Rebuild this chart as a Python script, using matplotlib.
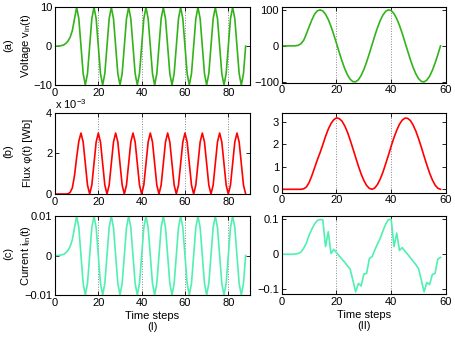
import numpy as np
import matplotlib.pyplot as plt

plt.rcParams['font.family'] = ['Liberation Sans', 'DejaVu Sans']
plt.rcParams['font.size'] = 8
plt.rcParams['mathtext.fontset'] = 'custom'
plt.rcParams['mathtext.rm'] = 'Liberation Sans'
plt.rcParams['mathtext.it'] = 'Liberation Sans:italic'

# column (I): 0..88 time steps
volt_left = [0, 0, 0.05, 0.15, 0.3, 0.7, 1.3, 2.3, 4.0, 7.0, 10,
             7.07, 0, -7.07, -10, -7.07, 0, 7.07, 10,
             7.07, 0, -7.07, -10, -7.07, 0, 7.07, 10,
             7.07, 0, -7.07, -10, -7.07, 0, 7.07, 10,
             7.07, 0, -7.07, -10, -7.07, 0, 7.07, 10,
             7.07, 0, -7.07, -10, -7.07, 0, 7.07, 10,
             7.07, 0, -7.07, -10, -7.07, 0, 7.07, 10,
             7.07, 0, -7.07, -10, -7.07, 0, 7.07, 10,
             7.07, 0, -7.07, -10, -7.07, 0, 7.07, 10,
             7.07, 0, -7.07, -10, -7.07, 0, 7.07, 10,
             7.07, 0, -7.07, -10, -7.07, 0]

# flux in units of 1e-3 Wb
flux_left = [0, 0, 0, 0, 0, 0, 0.01, 0.08, 0.3, 0.9, 1.8, 2.6, 3.0,
             2.56, 1.5, 0.44, 0, 0.44, 1.5, 2.56, 3.0,
             2.56, 1.5, 0.44, 0, 0.44, 1.5, 2.56, 3.0,
             2.56, 1.5, 0.44, 0, 0.44, 1.5, 2.56, 3.0,
             2.56, 1.5, 0.44, 0, 0.44, 1.5, 2.56, 3.0,
             2.56, 1.5, 0.44, 0, 0.44, 1.5, 2.56, 3.0,
             2.56, 1.5, 0.44, 0, 0.44, 1.5, 2.56, 3.0,
             2.56, 1.5, 0.44, 0, 0.44, 1.5, 2.56, 3.0,
             2.56, 1.5, 0.44, 0, 0.44, 1.5, 2.56, 3.0,
             2.56, 1.5, 0.44, 0, 0.44, 1.5, 2.56, 3.0,
             2.56, 1.5, 0.44, 0]

curr_left = [0, 0, 0.00005, 0.00015, 0.0003, 0.0007, 0.0013, 0.0023, 0.004, 0.007, 0.01,
             0.00707, 0, -0.00707, -0.01, -0.00707, 0, 0.00707, 0.01,
             0.00707, 0, -0.00707, -0.01, -0.00707, 0, 0.00707, 0.01,
             0.00707, 0, -0.00707, -0.01, -0.00707, 0, 0.00707, 0.01,
             0.00707, 0, -0.00707, -0.01, -0.00707, 0, 0.00707, 0.01,
             0.00707, 0, -0.00707, -0.01, -0.00707, 0, 0.00707, 0.01,
             0.00707, 0, -0.00707, -0.01, -0.00707, 0, 0.00707, 0.01,
             0.00707, 0, -0.00707, -0.01, -0.00707, 0, 0.00707, 0.01,
             0.00707, 0, -0.00707, -0.01, -0.00707, 0, 0.00707, 0.01,
             0.00707, 0, -0.00707, -0.01, -0.00707, 0, 0.00707, 0.01,
             0.00707, 0, -0.00707, -0.01, -0.00707, 0]

# column (II): 0..58 time steps
volt_right = [0, 0, 0, 0, 0, 0.3, 1.5, 6, 15, 33, 53, 72, 88, 97,
              100, 96.9, 87.8, 73.2, 54.1, 31.6, 7.1, -17.8, -41.6, -62.8,
              -80.1, -92.4, -99.0, -99.4, -93.7, -82.1, -65.4, -44.7, -21.2,
              3.6, 28.2, 51.1, 70.8, 86.0, 96.0, 99.9, 97.7, 89.4, 75.5, 57.0,
              34.9, 10.6, -14.3, -38.4, -60.0, -77.9, -91.0, -98.4, -99.7,
              -94.8, -84.1, -68.0, -47.8, -24.6, 0.1]

flux_right = [0, 0, 0, 0, 0, 0, 0, 0, 0.02, 0.1, 0.3, 0.6, 0.95, 1.3,
              1.62, 1.97, 2.34, 2.66, 2.91, 3.08, 3.16, 3.13, 3.02, 2.81,
              2.53, 2.18, 1.80, 1.41, 1.03, 0.68, 0.39, 0.17, 0.04, 0.00,
              0.06, 0.22, 0.46, 0.77, 1.14, 1.52, 1.92, 2.29, 2.61, 2.88,
              3.06, 3.15, 3.14, 3.04, 2.84, 2.57, 2.23, 1.86, 1.46, 1.08,
              0.72, 0.42, 0.19, 0.05, 0.00]

curr_right = [0, 0, 0, 0, 0, 0.001, 0.002, 0.006, 0.017, 0.032, 0.055,
              0.072, 0.087, 0.097, 0.1, 0.099, 0.022, 0.065, 0.002, 0.014,
              0.005, -0.005, -0.014, -0.023, -0.033, -0.043, -0.075, -0.108,
              -0.084, -0.091, -0.057, -0.055, -0.012, -0.007, 0.0125, 0.03,
              0.046, 0.068, 0.087, 0.1, 0.1, 0.022, 0.061, 0.011, 0.019,
              0.009, 0.0, -0.01, -0.02, -0.03, -0.042, -0.075, -0.108,
              -0.081, -0.087, -0.058, -0.055, -0.014, -0.009]

t_left = np.arange(len(volt_left))
t_right = np.arange(len(volt_right))

green = '#33b31a'
red = '#ff0000'
mint = '#50f0b0'

fig = plt.figure(figsize=(4.56, 3.38), dpi=100)

def style(ax, xmax, xticks):
    ax.set_xlim(0, xmax)
    ax.set_xticks(xticks)
    ax.tick_params(direction='in', top=True, right=True, length=3,
                   width=0.6, labelsize=8, pad=2)
    for s in ax.spines.values():
        s.set_linewidth(0.8)
    ax.xaxis.grid(True, linestyle=':', color='#888888', linewidth=0.7)

# left column
axa = fig.add_axes([0.1206, 0.7485, 0.4276, 0.2299])
axa.plot(t_left, volt_left, color=green, lw=1.2)
axa.set_ylim(-10, 10)
axa.set_yticks([-10, 0, 10])
style(axa, 90, [0, 20, 40, 60, 80])
axa.set_ylabel('Voltage v$_{\\rm in}$(t)')

axb = fig.add_axes([0.1206, 0.426, 0.4276, 0.2405])
axb.plot(t_left, flux_left, color=red, lw=1.2)
axb.set_ylim(0, 4)
axb.set_yticks([0, 2, 4])
style(axb, 90, [0, 20, 40, 60, 80])
axb.set_ylabel('Flux \u03c6(t) [Wb]')
axb.text(0.0, 1.02, 'x 10$^{-3}$', transform=axb.transAxes, ha='left', va='bottom')

axc = fig.add_axes([0.1206, 0.1272, 0.4276, 0.2337])
axc.plot(t_left, curr_left, color=mint, lw=1.2)
axc.set_ylim(-0.01, 0.01)
axc.set_yticks([-0.01, 0, 0.01])
axc.set_yticklabels(['\u22120.01', '0', '0.01'])
style(axc, 90, [0, 20, 40, 60, 80])
axc.set_ylabel('Current i$_{\\rm in}$(t)')
axc.set_xlabel('Time steps\n(I)', linespacing=1.15, labelpad=2)

for ax in (axa, axb, axc):
    ax.yaxis.set_label_coords(-0.113, 0.5)

# right column
axd = fig.add_axes([0.6178, 0.7553, 0.3603, 0.2231])
axd.plot(t_right, volt_right, color=green, lw=1.2)
axd.set_ylim(-102, 107)
axd.set_yticks([-100, 0, 100])
style(axd, 60, [0, 20, 40, 60])

axe = fig.add_axes([0.6178, 0.4299, 0.3603, 0.2367])
axe.plot(t_right, flux_right, color=red, lw=1.2)
axe.set_ylim(-0.15, 3.39)
axe.set_yticks([0, 1, 2, 3])
style(axe, 60, [0, 20, 40, 60])

axf = fig.add_axes([0.6178, 0.1293, 0.3603, 0.2317])
axf.plot(t_right, curr_right, color=mint, lw=1.2)
axf.set_ylim(-0.115, 0.11)
axf.set_yticks([-0.1, 0, 0.1])
axf.set_yticklabels(['\u22120.1', '0', '0.1'])
style(axf, 60, [0, 20, 40, 60])
axf.set_xlabel('Time steps\n(II)', linespacing=1.15, labelpad=2)

# row labels
for y, lab in [(0.867, '(a)'), (0.553, '(b)'), (0.251, '(c)')]:
    fig.text(8 / 456, y, lab, rotation=90, ha='center', va='center')

fig.savefig('out.png', dpi=100)
